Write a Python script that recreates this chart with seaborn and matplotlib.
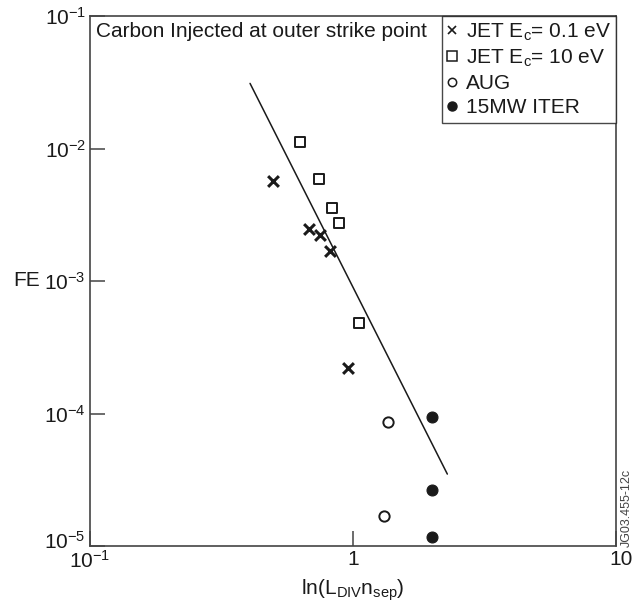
import matplotlib
matplotlib.use("Agg")
import matplotlib.pyplot as plt
from matplotlib.lines import Line2D
import matplotlib.transforms as mtransforms
import seaborn as sns

# ---- data ----
jet01_x = [0.495, 0.680, 0.751, 0.820, 0.957]
jet01_y = [0.00566, 0.00245, 0.00222, 0.00169, 0.000219]
jet10_x = [0.630, 0.745, 0.832, 0.887, 1.054]
jet10_y = [0.01129, 0.00585, 0.00357, 0.00274, 0.00048]
aug_x = [1.355, 1.315]
aug_y = [8.63e-5, 1.68e-5]
iter_x = [2.0, 2.0, 2.0]
iter_y = [9.36e-5, 2.65e-5, 1.17e-5]
fit_x = [0.406, 2.284]
fit_y = [0.0310, 3.49e-5]

labels = [r"JET E$_{\rm c}$= 0.1 eV", r"JET E$_{\rm c}$= 10 eV", "AUG", "15MW ITER"]
title_text = "Carbon Injected at outer strike point"
xlabel = r"ln(L$_{\rm DIV}$n$_{\rm sep}$)"
ylabel = "FE"
xticks = [0.1, 1, 10]
xticklabels = [r"10$^{-1}$", "1", "10"]
yticks = [1e-5, 1e-4, 1e-3, 1e-2, 1e-1]
yticklabels = [r"10$^{-5}$", r"10$^{-4}$", r"10$^{-3}$", r"10$^{-2}$", r"10$^{-1}$"]

sns.set_style("white")
plt.rcParams["font.family"] = ["Liberation Sans", "DejaVu Sans"]
plt.rcParams["mathtext.fontset"] = "custom"
plt.rcParams["mathtext.rm"] = "Liberation Sans"
plt.rcParams["mathtext.it"] = "Liberation Sans:italic"
plt.rcParams["mathtext.bf"] = "Liberation Sans:bold"
plt.rcParams["xtick.bottom"] = True
plt.rcParams["ytick.left"] = True

fig = plt.figure(figsize=(6.32, 6.05), dpi=100)
ax = fig.add_axes([90 / 632, 1 - 546 / 605, (616 - 90) / 632, (546 - 16) / 605])

ink = "#1a1a1a"
FS = 15

# fit line
sns.lineplot(x=fit_x, y=fit_y, ax=ax, color=ink, linewidth=1.1, legend=False)

# series
sns.scatterplot(x=jet01_x, y=jet01_y, ax=ax, marker="x", s=60, color=ink,
                linewidth=2.2, legend=False, zorder=3)
sns.scatterplot(x=jet10_x, y=jet10_y, ax=ax, marker="s", s=50, facecolor="white",
                edgecolor=ink, linewidth=1.4, legend=False, zorder=3)
sns.scatterplot(x=aug_x, y=aug_y, ax=ax, marker="o", s=55, facecolor="white",
                edgecolor=ink, linewidth=1.4, legend=False, zorder=3)
sns.scatterplot(x=iter_x, y=iter_y, ax=ax, marker="o", s=62, color=ink,
                edgecolor=ink, linewidth=0.8, legend=False, zorder=3)

ax.set_xscale("log")
ax.set_yscale("log")
ax.set_xlim(0.1, 10)
ax.set_ylim(1e-5, 1e-1)
ax.set_xticks(xticks)
ax.set_yticks(yticks)
ax.set_xticklabels(xticklabels)
ax.set_yticklabels(yticklabels)
ax.minorticks_off()
ax.tick_params(axis="both", which="major", direction="in", length=11, width=1.1,
               color="#444444", labelsize=FS, labelcolor=ink,
               bottom=True, left=True, top=False, right=False)
ax.tick_params(axis="x", pad=3)
ax.tick_params(axis="y", pad=3)

# small nudges of end labels, as in the reference
ax.get_yticklabels()[0].set_transform(
    ax.get_yticklabels()[0].get_transform()
    + mtransforms.ScaledTranslation(0, 6 / 100, fig.dpi_scale_trans))
ax.get_xticklabels()[-1].set_transform(
    ax.get_xticklabels()[-1].get_transform()
    + mtransforms.ScaledTranslation(5 / 100, 0, fig.dpi_scale_trans))

for sp in ax.spines.values():
    sp.set_visible(True)
    sp.set_color("#444444")
    sp.set_linewidth(1.2)

ax.set_xlabel(xlabel, fontsize=FS, color=ink, labelpad=4)
ax.set_ylabel(ylabel, fontsize=FS, color=ink, rotation=0, va="center", ha="right", labelpad=3)

ax.text(0.012, 0.988, title_text, transform=ax.transAxes, ha="left", va="top",
        fontsize=FS, color=ink)

handles = [
    Line2D([], [], linestyle="none", marker="x", markersize=6, markeredgewidth=1.2, color=ink),
    Line2D([], [], linestyle="none", marker="s", markersize=6.5, markerfacecolor="white",
           markeredgecolor=ink, markeredgewidth=1.1),
    Line2D([], [], linestyle="none", marker="o", markersize=6, markerfacecolor="white",
           markeredgecolor=ink, markeredgewidth=1.1),
    Line2D([], [], linestyle="none", marker="o", markersize=6.5, color=ink),
]
leg = ax.legend(handles, labels, loc="upper right", bbox_to_anchor=(1, 1),
                borderaxespad=0, frameon=True, fancybox=False, fontsize=FS,
                handlelength=0.5, handletextpad=0.4, borderpad=0.25,
                labelspacing=0.25)
leg.get_frame().set_edgecolor(ink)
leg.get_frame().set_linewidth(1.0)
for t in leg.get_texts():
    t.set_color(ink)

fig.text(627 / 632, 1 - 508 / 605, "JG03.455-12c", rotation=90, ha="center", va="center",
         fontsize=9, color="#444444")

fig.savefig("out.png", dpi=100)
